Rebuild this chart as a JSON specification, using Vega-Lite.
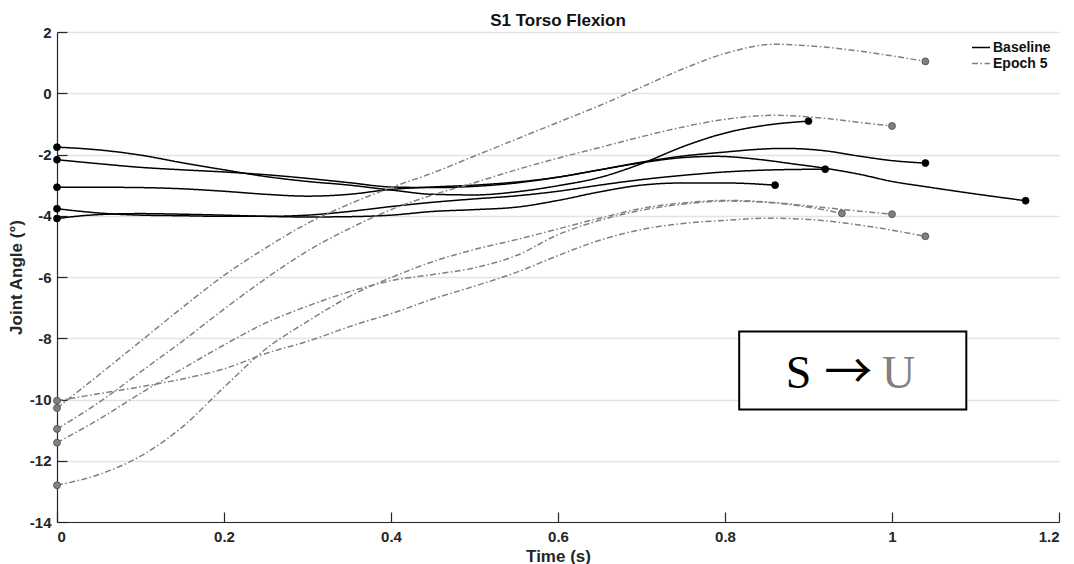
{
  "$schema": "https://vega.github.io/schema/vega-lite/v6.json",
  "autosize": {"type": "none"},
  "width": 1002,
  "height": 490,
  "padding": {"left": 57, "top": 32, "right": 15, "bottom": 42},
  "background": "white",
  "title": {"text": "S1 Torso Flexion", "font": "Liberation Sans", "fontSize": 17, "fontWeight": "bold", "color": "#111111", "offset": -5, "anchor": "middle", "frame": "group"},
  "config": {
    "view": {"stroke": null},
    "axis": {"labelFont": "Liberation Sans", "titleFont": "Liberation Sans", "labelFontWeight": "bold", "titleFontWeight": "bold", "labelFontSize": 15, "titleFontSize": 17, "labelColor": "#262626", "titleColor": "#262626", "domainColor": "#262626", "tickColor": "#262626", "domainWidth": 1.2, "tickWidth": 1.2, "tickSize": -10}
  },
  "datasets": {
    "curves": [
      {"c":"B1","s":"Baseline","t":0,"a":-1.76},{"c":"B1","s":"Baseline","t":0.05,"a":-1.85},{"c":"B1","s":"Baseline","t":0.1,"a":-2.02},{"c":"B1","s":"Baseline","t":0.15,"a":-2.27},{"c":"B1","s":"Baseline","t":0.2,"a":-2.5},{"c":"B1","s":"Baseline","t":0.25,"a":-2.72},{"c":"B1","s":"Baseline","t":0.3,"a":-2.88},{"c":"B1","s":"Baseline","t":0.35,"a":-3.0},{"c":"B1","s":"Baseline","t":0.4,"a":-3.16},{"c":"B1","s":"Baseline","t":0.45,"a":-3.3},{"c":"B1","s":"Baseline","t":0.5,"a":-3.32},{"c":"B1","s":"Baseline","t":0.55,"a":-3.22},{"c":"B1","s":"Baseline","t":0.6,"a":-3.02},{"c":"B1","s":"Baseline","t":0.65,"a":-2.75},{"c":"B1","s":"Baseline","t":0.7,"a":-2.3},{"c":"B1","s":"Baseline","t":0.75,"a":-1.74},{"c":"B1","s":"Baseline","t":0.8,"a":-1.3},{"c":"B1","s":"Baseline","t":0.85,"a":-1.04},{"c":"B1","s":"Baseline","t":0.9,"a":-0.91},
      {"c":"B2","s":"Baseline","t":0,"a":-2.17},{"c":"B2","s":"Baseline","t":0.05,"a":-2.3},{"c":"B2","s":"Baseline","t":0.1,"a":-2.42},{"c":"B2","s":"Baseline","t":0.15,"a":-2.5},{"c":"B2","s":"Baseline","t":0.2,"a":-2.57},{"c":"B2","s":"Baseline","t":0.25,"a":-2.66},{"c":"B2","s":"Baseline","t":0.3,"a":-2.78},{"c":"B2","s":"Baseline","t":0.35,"a":-2.92},{"c":"B2","s":"Baseline","t":0.4,"a":-3.06},{"c":"B2","s":"Baseline","t":0.45,"a":-3.08},{"c":"B2","s":"Baseline","t":0.5,"a":-3.04},{"c":"B2","s":"Baseline","t":0.55,"a":-2.93},{"c":"B2","s":"Baseline","t":0.6,"a":-2.74},{"c":"B2","s":"Baseline","t":0.65,"a":-2.5},{"c":"B2","s":"Baseline","t":0.7,"a":-2.27},{"c":"B2","s":"Baseline","t":0.75,"a":-2.1},{"c":"B2","s":"Baseline","t":0.79,"a":-2.06},{"c":"B2","s":"Baseline","t":0.84,"a":-2.16},{"c":"B2","s":"Baseline","t":0.88,"a":-2.3},{"c":"B2","s":"Baseline","t":0.92,"a":-2.45},{"c":"B2","s":"Baseline","t":0.96,"a":-2.64},{"c":"B2","s":"Baseline","t":1.0,"a":-2.88},{"c":"B2","s":"Baseline","t":1.04,"a":-3.05},{"c":"B2","s":"Baseline","t":1.09,"a":-3.25},{"c":"B2","s":"Baseline","t":1.16,"a":-3.51},
      {"c":"B3","s":"Baseline","t":0,"a":-3.07},{"c":"B3","s":"Baseline","t":0.05,"a":-3.07},{"c":"B3","s":"Baseline","t":0.1,"a":-3.08},{"c":"B3","s":"Baseline","t":0.15,"a":-3.12},{"c":"B3","s":"Baseline","t":0.2,"a":-3.2},{"c":"B3","s":"Baseline","t":0.25,"a":-3.3},{"c":"B3","s":"Baseline","t":0.3,"a":-3.36},{"c":"B3","s":"Baseline","t":0.35,"a":-3.3},{"c":"B3","s":"Baseline","t":0.4,"a":-3.14},{"c":"B3","s":"Baseline","t":0.45,"a":-3.06},{"c":"B3","s":"Baseline","t":0.5,"a":-3.0},{"c":"B3","s":"Baseline","t":0.55,"a":-2.9},{"c":"B3","s":"Baseline","t":0.6,"a":-2.74},{"c":"B3","s":"Baseline","t":0.65,"a":-2.5},{"c":"B3","s":"Baseline","t":0.7,"a":-2.25},{"c":"B3","s":"Baseline","t":0.75,"a":-2.05},{"c":"B3","s":"Baseline","t":0.8,"a":-1.92},{"c":"B3","s":"Baseline","t":0.84,"a":-1.83},{"c":"B3","s":"Baseline","t":0.87,"a":-1.8},{"c":"B3","s":"Baseline","t":0.92,"a":-1.88},{"c":"B3","s":"Baseline","t":0.96,"a":-2.05},{"c":"B3","s":"Baseline","t":1.0,"a":-2.2},{"c":"B3","s":"Baseline","t":1.04,"a":-2.28},
      {"c":"B4","s":"Baseline","t":0,"a":-3.77},{"c":"B4","s":"Baseline","t":0.03,"a":-3.86},{"c":"B4","s":"Baseline","t":0.06,"a":-3.93},{"c":"B4","s":"Baseline","t":0.1,"a":-3.98},{"c":"B4","s":"Baseline","t":0.15,"a":-4.0},{"c":"B4","s":"Baseline","t":0.2,"a":-4.02},{"c":"B4","s":"Baseline","t":0.25,"a":-4.02},{"c":"B4","s":"Baseline","t":0.3,"a":-3.98},{"c":"B4","s":"Baseline","t":0.35,"a":-3.86},{"c":"B4","s":"Baseline","t":0.4,"a":-3.7},{"c":"B4","s":"Baseline","t":0.45,"a":-3.56},{"c":"B4","s":"Baseline","t":0.5,"a":-3.45},{"c":"B4","s":"Baseline","t":0.55,"a":-3.35},{"c":"B4","s":"Baseline","t":0.6,"a":-3.2},{"c":"B4","s":"Baseline","t":0.65,"a":-3.0},{"c":"B4","s":"Baseline","t":0.7,"a":-2.82},{"c":"B4","s":"Baseline","t":0.75,"a":-2.68},{"c":"B4","s":"Baseline","t":0.8,"a":-2.57},{"c":"B4","s":"Baseline","t":0.86,"a":-2.5},{"c":"B4","s":"Baseline","t":0.92,"a":-2.48},
      {"c":"B5","s":"Baseline","t":0,"a":-4.09},{"c":"B5","s":"Baseline","t":0.03,"a":-4.0},{"c":"B5","s":"Baseline","t":0.06,"a":-3.95},{"c":"B5","s":"Baseline","t":0.1,"a":-3.93},{"c":"B5","s":"Baseline","t":0.15,"a":-3.95},{"c":"B5","s":"Baseline","t":0.2,"a":-3.98},{"c":"B5","s":"Baseline","t":0.25,"a":-4.02},{"c":"B5","s":"Baseline","t":0.3,"a":-4.04},{"c":"B5","s":"Baseline","t":0.35,"a":-4.03},{"c":"B5","s":"Baseline","t":0.4,"a":-3.98},{"c":"B5","s":"Baseline","t":0.45,"a":-3.86},{"c":"B5","s":"Baseline","t":0.5,"a":-3.8},{"c":"B5","s":"Baseline","t":0.55,"a":-3.72},{"c":"B5","s":"Baseline","t":0.6,"a":-3.5},{"c":"B5","s":"Baseline","t":0.65,"a":-3.22},{"c":"B5","s":"Baseline","t":0.7,"a":-3.0},{"c":"B5","s":"Baseline","t":0.75,"a":-2.93},{"c":"B5","s":"Baseline","t":0.8,"a":-2.93},{"c":"B5","s":"Baseline","t":0.86,"a":-3.0},
      {"c":"G1","s":"Epoch 5","t":0,"a":-10.28},{"c":"G1","s":"Epoch 5","t":0.05,"a":-9.2},{"c":"G1","s":"Epoch 5","t":0.1,"a":-8.1},{"c":"G1","s":"Epoch 5","t":0.15,"a":-7.0},{"c":"G1","s":"Epoch 5","t":0.2,"a":-5.95},{"c":"G1","s":"Epoch 5","t":0.25,"a":-5.05},{"c":"G1","s":"Epoch 5","t":0.3,"a":-4.25},{"c":"G1","s":"Epoch 5","t":0.35,"a":-3.62},{"c":"G1","s":"Epoch 5","t":0.4,"a":-3.08},{"c":"G1","s":"Epoch 5","t":0.45,"a":-2.6},{"c":"G1","s":"Epoch 5","t":0.5,"a":-2.05},{"c":"G1","s":"Epoch 5","t":0.55,"a":-1.5},{"c":"G1","s":"Epoch 5","t":0.6,"a":-0.95},{"c":"G1","s":"Epoch 5","t":0.65,"a":-0.4},{"c":"G1","s":"Epoch 5","t":0.7,"a":0.2},{"c":"G1","s":"Epoch 5","t":0.75,"a":0.8},{"c":"G1","s":"Epoch 5","t":0.8,"a":1.3},{"c":"G1","s":"Epoch 5","t":0.86,"a":1.6},{"c":"G1","s":"Epoch 5","t":0.9,"a":1.55},{"c":"G1","s":"Epoch 5","t":0.96,"a":1.38},{"c":"G1","s":"Epoch 5","t":1.0,"a":1.22},{"c":"G1","s":"Epoch 5","t":1.04,"a":1.04},
      {"c":"G2","s":"Epoch 5","t":0,"a":-10.96},{"c":"G2","s":"Epoch 5","t":0.05,"a":-10.1},{"c":"G2","s":"Epoch 5","t":0.1,"a":-9.1},{"c":"G2","s":"Epoch 5","t":0.15,"a":-8.1},{"c":"G2","s":"Epoch 5","t":0.2,"a":-7.05},{"c":"G2","s":"Epoch 5","t":0.25,"a":-6.05},{"c":"G2","s":"Epoch 5","t":0.3,"a":-5.15},{"c":"G2","s":"Epoch 5","t":0.35,"a":-4.42},{"c":"G2","s":"Epoch 5","t":0.4,"a":-3.8},{"c":"G2","s":"Epoch 5","t":0.45,"a":-3.32},{"c":"G2","s":"Epoch 5","t":0.5,"a":-2.92},{"c":"G2","s":"Epoch 5","t":0.55,"a":-2.5},{"c":"G2","s":"Epoch 5","t":0.6,"a":-2.12},{"c":"G2","s":"Epoch 5","t":0.65,"a":-1.77},{"c":"G2","s":"Epoch 5","t":0.7,"a":-1.42},{"c":"G2","s":"Epoch 5","t":0.75,"a":-1.1},{"c":"G2","s":"Epoch 5","t":0.8,"a":-0.85},{"c":"G2","s":"Epoch 5","t":0.86,"a":-0.72},{"c":"G2","s":"Epoch 5","t":0.92,"a":-0.82},{"c":"G2","s":"Epoch 5","t":0.96,"a":-0.95},{"c":"G2","s":"Epoch 5","t":1.0,"a":-1.07},
      {"c":"G3","s":"Epoch 5","t":0,"a":-11.41},{"c":"G3","s":"Epoch 5","t":0.05,"a":-10.65},{"c":"G3","s":"Epoch 5","t":0.1,"a":-9.8},{"c":"G3","s":"Epoch 5","t":0.15,"a":-9.0},{"c":"G3","s":"Epoch 5","t":0.2,"a":-8.22},{"c":"G3","s":"Epoch 5","t":0.25,"a":-7.5},{"c":"G3","s":"Epoch 5","t":0.3,"a":-6.95},{"c":"G3","s":"Epoch 5","t":0.36,"a":-6.4},{"c":"G3","s":"Epoch 5","t":0.4,"a":-6.12},{"c":"G3","s":"Epoch 5","t":0.45,"a":-5.92},{"c":"G3","s":"Epoch 5","t":0.5,"a":-5.7},{"c":"G3","s":"Epoch 5","t":0.55,"a":-5.3},{"c":"G3","s":"Epoch 5","t":0.6,"a":-4.62},{"c":"G3","s":"Epoch 5","t":0.65,"a":-4.15},{"c":"G3","s":"Epoch 5","t":0.7,"a":-3.82},{"c":"G3","s":"Epoch 5","t":0.75,"a":-3.62},{"c":"G3","s":"Epoch 5","t":0.8,"a":-3.52},{"c":"G3","s":"Epoch 5","t":0.85,"a":-3.56},{"c":"G3","s":"Epoch 5","t":0.9,"a":-3.72},{"c":"G3","s":"Epoch 5","t":0.94,"a":-3.92},
      {"c":"G4","s":"Epoch 5","t":0,"a":-12.8},{"c":"G4","s":"Epoch 5","t":0.05,"a":-12.45},{"c":"G4","s":"Epoch 5","t":0.1,"a":-11.85},{"c":"G4","s":"Epoch 5","t":0.15,"a":-10.9},{"c":"G4","s":"Epoch 5","t":0.2,"a":-9.6},{"c":"G4","s":"Epoch 5","t":0.25,"a":-8.35},{"c":"G4","s":"Epoch 5","t":0.3,"a":-7.45},{"c":"G4","s":"Epoch 5","t":0.36,"a":-6.5},{"c":"G4","s":"Epoch 5","t":0.4,"a":-6.02},{"c":"G4","s":"Epoch 5","t":0.45,"a":-5.5},{"c":"G4","s":"Epoch 5","t":0.5,"a":-5.1},{"c":"G4","s":"Epoch 5","t":0.55,"a":-4.78},{"c":"G4","s":"Epoch 5","t":0.6,"a":-4.43},{"c":"G4","s":"Epoch 5","t":0.65,"a":-4.08},{"c":"G4","s":"Epoch 5","t":0.7,"a":-3.76},{"c":"G4","s":"Epoch 5","t":0.75,"a":-3.58},{"c":"G4","s":"Epoch 5","t":0.8,"a":-3.5},{"c":"G4","s":"Epoch 5","t":0.85,"a":-3.55},{"c":"G4","s":"Epoch 5","t":0.9,"a":-3.68},{"c":"G4","s":"Epoch 5","t":0.95,"a":-3.82},{"c":"G4","s":"Epoch 5","t":1.0,"a":-3.95},
      {"c":"G5","s":"Epoch 5","t":0,"a":-10.04},{"c":"G5","s":"Epoch 5","t":0.068,"a":-9.73},{"c":"G5","s":"Epoch 5","t":0.116,"a":-9.51},{"c":"G5","s":"Epoch 5","t":0.15,"a":-9.33},{"c":"G5","s":"Epoch 5","t":0.2,"a":-9.0},{"c":"G5","s":"Epoch 5","t":0.25,"a":-8.5},{"c":"G5","s":"Epoch 5","t":0.3,"a":-8.1},{"c":"G5","s":"Epoch 5","t":0.36,"a":-7.53},{"c":"G5","s":"Epoch 5","t":0.4,"a":-7.2},{"c":"G5","s":"Epoch 5","t":0.45,"a":-6.72},{"c":"G5","s":"Epoch 5","t":0.5,"a":-6.3},{"c":"G5","s":"Epoch 5","t":0.55,"a":-5.85},{"c":"G5","s":"Epoch 5","t":0.6,"a":-5.3},{"c":"G5","s":"Epoch 5","t":0.65,"a":-4.8},{"c":"G5","s":"Epoch 5","t":0.7,"a":-4.45},{"c":"G5","s":"Epoch 5","t":0.75,"a":-4.25},{"c":"G5","s":"Epoch 5","t":0.8,"a":-4.15},{"c":"G5","s":"Epoch 5","t":0.85,"a":-4.08},{"c":"G5","s":"Epoch 5","t":0.9,"a":-4.12},{"c":"G5","s":"Epoch 5","t":0.96,"a":-4.3},{"c":"G5","s":"Epoch 5","t":1.04,"a":-4.67}
    ],
    "box": [{"t0": 0.817, "t1": 1.089, "a0": -7.78, "a1": -10.33}],
    "annot": [{"label": "S", "t": 0.8727, "a": -9.62}, {"label": "→", "t": 0.919, "a": -9.62}, {"label": "U", "t": 0.988, "a": -9.62}]
  },
  "layer": [
    {
      "data": {"name": "curves"},
      "mark": {"type": "line", "interpolate": "monotone", "strokeWidth": 1.5},
      "encoding": {
        "x": {"field": "t", "type": "quantitative", "scale": {"domain": [0, 1.2], "nice": false, "zero": false},
              "axis": {"title": "Time (s)", "values": [0, 0.2, 0.4, 0.6, 0.8, 1, 1.2], "labelExpr": "toString(datum.value)", "grid": false, "labelPadding": 17, "titlePadding": 4}},
        "y": {"field": "a", "type": "quantitative", "scale": {"domain": [-14, 2], "nice": false, "zero": false},
              "axis": {"title": "Joint Angle (°)", "values": [-14, -12, -10, -8, -6, -4, -2, 0, 2], "labelExpr": "toString(datum.value)", "grid": true, "gridColor": "#e3e3e3", "gridWidth": 1.3, "labelPadding": 16, "titlePadding": 4}},
        "detail": {"field": "c"},
        "color": {"field": "s", "type": "nominal", "scale": {"domain": ["Baseline", "Epoch 5"], "range": ["#000000", "#808080"]},
                  "legend": {"title": null, "orient": "none", "legendX": 914, "legendY": 8, "symbolType": "stroke", "symbolSize": 324, "symbolStrokeWidth": 1.6, "labelFont": "Liberation Sans", "labelFontWeight": "bold", "labelFontSize": 14, "labelColor": "#111111", "rowPadding": 1, "clipHeight": 15, "labelOffset": 2}},
        "strokeDash": {"field": "s", "type": "nominal", "scale": {"domain": ["Baseline", "Epoch 5"], "range": [[1, 0], [6, 2.5, 1.5, 2.5]]},
                  "legend": {"title": null, "orient": "none", "legendX": 914, "legendY": 8, "symbolType": "stroke", "symbolSize": 324, "symbolStrokeWidth": 1.6, "labelFont": "Liberation Sans", "labelFontWeight": "bold", "labelFontSize": 14, "labelColor": "#111111", "rowPadding": 1, "clipHeight": 15, "labelOffset": 2}}
      }
    },
    {
      "data": {"name": "curves"},
      "transform": [
        {"joinaggregate": [{"op": "min", "field": "t", "as": "tmin"}, {"op": "max", "field": "t", "as": "tmax"}], "groupby": ["c"]},
        {"filter": "datum.t == datum.tmin || datum.t == datum.tmax"}
      ],
      "mark": {"type": "point", "filled": true, "size": 48, "opacity": 1, "strokeWidth": 0.8},
      "encoding": {
        "x": {"field": "t", "type": "quantitative"},
        "y": {"field": "a", "type": "quantitative"},
        "fill": {"field": "s", "type": "nominal", "scale": {"domain": ["Baseline", "Epoch 5"], "range": ["#000000", "#808080"]}, "legend": null},
        "stroke": {"field": "s", "type": "nominal", "scale": {"domain": ["Baseline", "Epoch 5"], "range": ["#000000", "#4a4a4a"]}, "legend": null}
      }
    },
    {
      "data": {"name": "box"},
      "mark": {"type": "rect", "fill": "white", "stroke": "black", "strokeWidth": 2},
      "encoding": {
        "x": {"field": "t0", "type": "quantitative"},
        "x2": {"field": "t1"},
        "y": {"field": "a0", "type": "quantitative"},
        "y2": {"field": "a1"}
      }
    },
    {
      "data": {"name": "annot"},
      "transform": [{"filter": "datum.label == 'S'"}],
      "mark": {"type": "text", "font": "Liberation Serif", "fontSize": 46, "align": "left", "baseline": "alphabetic", "color": "#000000"},
      "encoding": {
        "x": {"field": "t", "type": "quantitative"},
        "y": {"field": "a", "type": "quantitative"},
        "text": {"field": "label"}
      }
    },
    {
      "data": {"name": "annot"},
      "transform": [{"filter": "datum.label == '→'"}],
      "mark": {"type": "text", "font": "Noto Sans CJK JP", "fontSize": 48, "fontWeight": "normal", "align": "left", "baseline": "alphabetic", "color": "#000000"},
      "encoding": {
        "x": {"field": "t", "type": "quantitative"},
        "y": {"field": "a", "type": "quantitative"},
        "text": {"field": "label"}
      }
    },
    {
      "data": {"name": "annot"},
      "transform": [{"filter": "datum.label == 'U'"}],
      "mark": {"type": "text", "font": "Liberation Serif", "fontSize": 46, "align": "left", "baseline": "alphabetic", "color": "#808080"},
      "encoding": {
        "x": {"field": "t", "type": "quantitative"},
        "y": {"field": "a", "type": "quantitative"},
        "text": {"field": "label"}
      }
    }
  ]
}
